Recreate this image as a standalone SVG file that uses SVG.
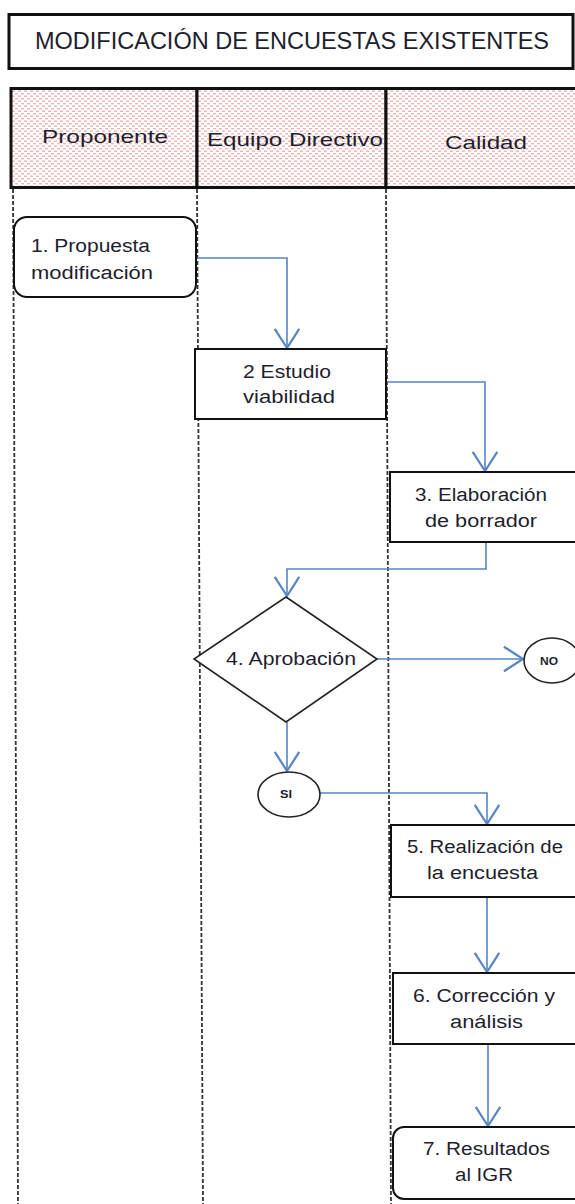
<svg xmlns="http://www.w3.org/2000/svg" width="575" height="1204" viewBox="0 0 575 1204">
<style>
.t{font-family:"Liberation Sans",Arial,sans-serif;fill:#1e1e2e;}
.n{font-size:18px;}
.box{fill:#fff;stroke:#111;stroke-width:2;}
.lane{stroke:#333;stroke-width:1.8;stroke-dasharray:4 2;fill:none;}
.con{fill:none;stroke:#5585c5;stroke-width:1.6;}
.hdr{fill:url(#dots);stroke:#111;stroke-width:3;}
</style>
<defs>
<pattern id="dots" x="0" y="0" width="6" height="5" patternUnits="userSpaceOnUse">
<rect width="6" height="5" fill="#fff"/>
<rect x="0" y="0.5" width="3" height="1.4" fill="#ecb4b4"/>
<rect x="3" y="3" width="3" height="1.4" fill="#ecb4b4"/>
</pattern>
<marker id="arr" markerUnits="userSpaceOnUse" markerWidth="30" markerHeight="30" refX="0" refY="0" viewBox="-16 -11 18 22" orient="auto" overflow="visible">
<path d="M-14,-9 L0,0 L-14,9" fill="none" stroke="#5585c5" stroke-width="1.6"/>
</marker>
</defs>
<rect width="575" height="1204" fill="#fff"/>
<g id="title">
<rect x="9" y="14.5" width="564" height="54" fill="#fff" stroke="#111" stroke-width="3"/>
<text class="t" x="35" y="49" font-size="24" textLength="514" lengthAdjust="spacingAndGlyphs">MODIFICACIÓN  DE ENCUESTAS  EXISTENTES</text>
</g>
<g id="lanes">
<rect class="hdr" x="11" y="88.5" width="186" height="99"/>
<rect class="hdr" x="197" y="88.5" width="189" height="99"/>
<rect class="hdr" x="386" y="88.5" width="192" height="99"/>
<text class="t" x="42" y="143" font-size="18.5" textLength="126" lengthAdjust="spacingAndGlyphs">Proponente</text>
<text class="t" x="207" y="146" font-size="18.5" textLength="176" lengthAdjust="spacingAndGlyphs">Equipo Directivo</text>
<text class="t" x="445" y="149" font-size="18.5" textLength="82" lengthAdjust="spacingAndGlyphs">Calidad</text>
<line class="lane" x1="13" y1="189" x2="18" y2="1204"/>
<line class="lane" x1="197" y1="189" x2="203" y2="1204"/>
<line class="lane" x1="386" y1="189" x2="391" y2="1204"/>
</g>
<g id="connectors">
<path class="con" d="M196,258 H287 V348" marker-end="url(#arr)"/>
<path class="con" d="M386,382 H485 V471" marker-end="url(#arr)"/>
<path class="con" d="M486,542 V569 H287 V596" marker-end="url(#arr)"/>
<path class="con" d="M377,659 H523" marker-end="url(#arr)"/>
<path class="con" d="M287,722 V771" marker-end="url(#arr)"/>
<path class="con" d="M320,793 H487 V824" marker-end="url(#arr)"/>
<path class="con" d="M487,897 V972" marker-end="url(#arr)"/>
<path class="con" d="M488,1044 V1126" marker-end="url(#arr)"/>
</g>
<g id="n1">
<rect class="box" x="14" y="217" width="182" height="80" rx="13"/>
<text class="t n" x="31" y="252" textLength="119" lengthAdjust="spacingAndGlyphs">1. Propuesta</text>
<text class="t n" x="31" y="279" textLength="122" lengthAdjust="spacingAndGlyphs">modificación</text>
</g>
<g id="n2">
<rect class="box" x="195" y="349" width="191" height="70"/>
<text class="t n" x="243" y="378" textLength="88" lengthAdjust="spacingAndGlyphs">2 Estudio</text>
<text class="t n" x="243" y="403" textLength="92" lengthAdjust="spacingAndGlyphs">viabilidad</text>
</g>
<g id="n3">
<rect class="box" x="390" y="472" width="190" height="70"/>
<text class="t n" x="415" y="501" textLength="132" lengthAdjust="spacingAndGlyphs">3. Elaboración</text>
<text class="t n" x="425" y="527" textLength="112" lengthAdjust="spacingAndGlyphs">de borrador</text>
</g>
<g id="n4">
<polygon points="286,597 377,659 286,722 194,659" fill="#fff" stroke="#222" stroke-width="1.6"/>
<text class="t n" x="226" y="665" textLength="130" lengthAdjust="spacingAndGlyphs">4. Aprobación</text>
</g>
<g id="no">
<ellipse cx="552" cy="660.5" rx="28" ry="22.5" fill="#fff" stroke="#222" stroke-width="1.6"/>
<text class="t" x="540" y="665" font-size="11" font-weight="bold" textLength="18" lengthAdjust="spacingAndGlyphs">NO</text>
</g>
<g id="si">
<ellipse cx="289" cy="794.5" rx="31" ry="22.5" fill="#fff" stroke="#222" stroke-width="1.6"/>
<text class="t" x="280" y="798" font-size="11" font-weight="bold" textLength="12" lengthAdjust="spacingAndGlyphs">SI</text>
</g>
<g id="n5">
<rect class="box" x="391" y="825" width="189" height="72"/>
<text class="t n" x="407" y="853" textLength="156" lengthAdjust="spacingAndGlyphs">5. Realización de</text>
<text class="t n" x="427" y="879" textLength="111" lengthAdjust="spacingAndGlyphs">la encuesta</text>
</g>
<g id="n6">
<rect class="box" x="393" y="973" width="187" height="71"/>
<text class="t n" x="413" y="1002" textLength="142" lengthAdjust="spacingAndGlyphs">6. Corrección y</text>
<text class="t n" x="450" y="1028" textLength="73" lengthAdjust="spacingAndGlyphs">análisis</text>
</g>
<g id="n7">
<rect class="box" x="393" y="1127" width="192" height="72" rx="11"/>
<text class="t n" x="423" y="1155" textLength="127" lengthAdjust="spacingAndGlyphs">7. Resultados</text>
<text class="t n" x="455" y="1181" textLength="58" lengthAdjust="spacingAndGlyphs">al IGR</text>
</g>
</svg>
